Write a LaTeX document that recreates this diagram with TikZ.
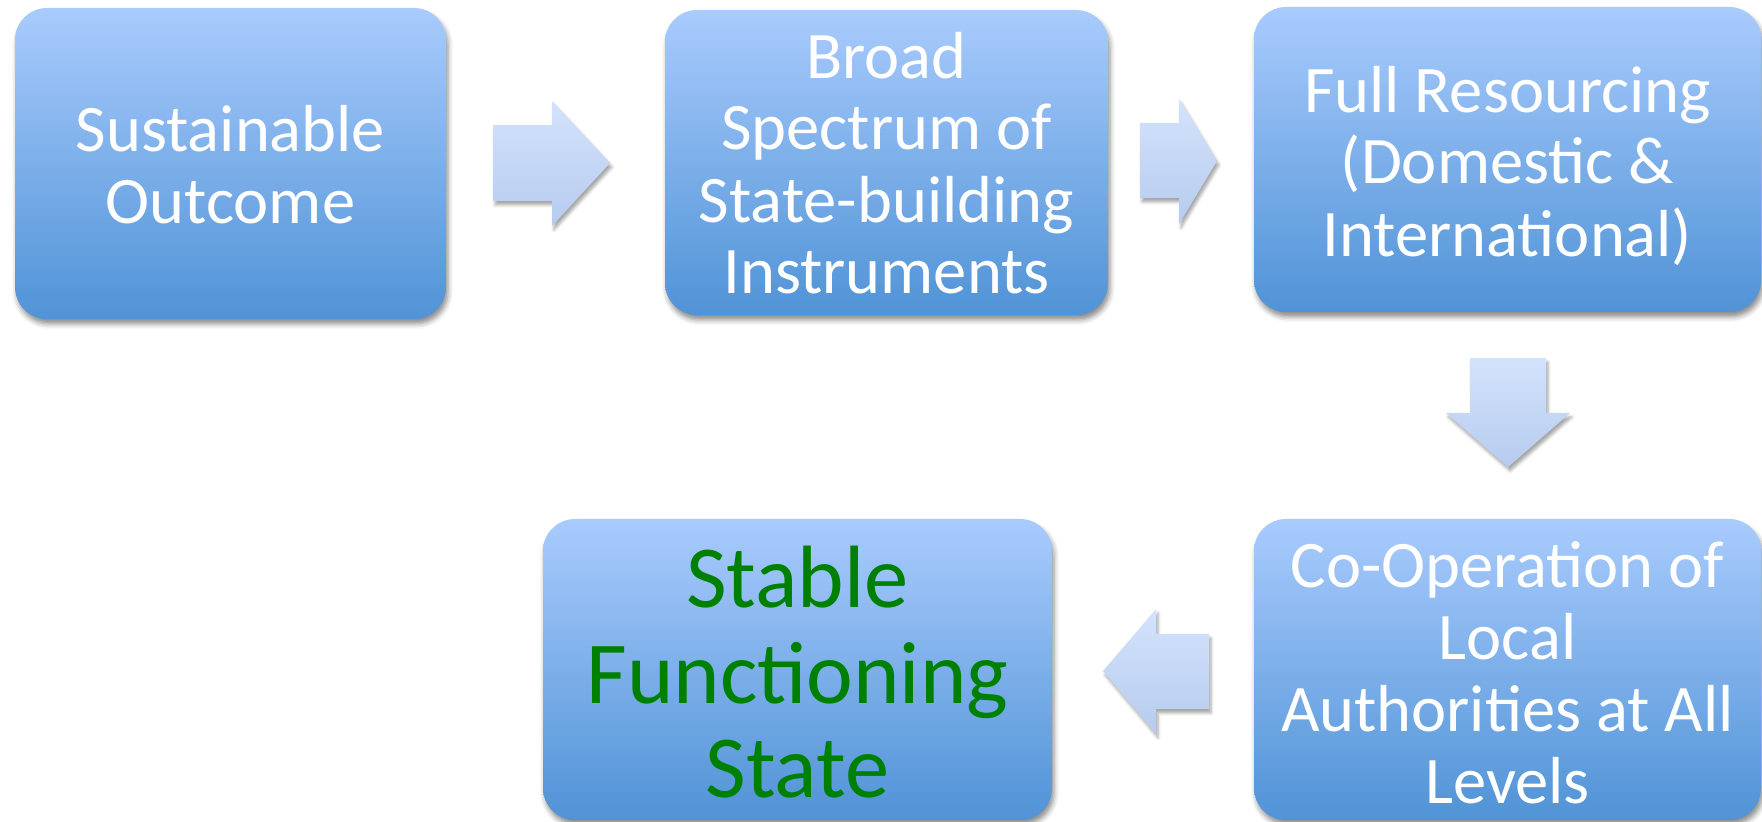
\documentclass[tikz,border=0pt]{standalone}
\usepackage{fontspec}
\setmainfont{Carlito}
\usetikzlibrary{shadows.blur}
\definecolor{boxtop}{HTML}{A9CBFD}
\definecolor{boxbot}{HTML}{5093D6}
\definecolor{arrtop}{HTML}{D3E3FC}
\definecolor{arrbot}{HTML}{B6CBEE}
\definecolor{stablegreen}{HTML}{008000}
\begin{document}
\begin{tikzpicture}[x=1pt,y=1pt,
  box/.style={rectangle, draw=none, rounded corners=32pt, top color=boxtop, bottom color=boxbot,
    inner sep=0pt, outer sep=0pt,
    blur shadow={shadow xshift=2pt, shadow yshift=-5pt, shadow blur radius=5pt, shadow opacity=45}},
  blockarrow/.style={draw=none, top color=arrtop, bottom color=arrbot,
    blur shadow={shadow xshift=2pt, shadow yshift=-4pt, shadow blur radius=3pt, shadow opacity=35}},
  wline/.style={text=white, font=\fontsize{66.5}{72}\selectfont, anchor=base, inner sep=0pt},
  gline/.style={text=stablegreen, font=\fontsize{88.5}{95}\selectfont, anchor=base, inner sep=0pt}]
\useasboundingbox (0,0) rectangle (1762,822);

% boxes
\node[box, minimum width=431, minimum height=311] (b1) at (230.5,658.5) {};
\node[box, minimum width=443, minimum height=305] (b2) at (886.5,659.5) {};
\node[box, minimum width=507, minimum height=305] (b3) at (1507.5,662.5) {};
\node[box, minimum width=507, minimum height=301] (b5) at (1507.5,152.5) {};
\node[box, minimum width=509, minimum height=301] (b4) at (797.5,152.5) {};

% block arrows
\path[blockarrow] (493,697) -- (552,697) -- (552,721) -- (610,659) -- (552,596) -- (552,621) -- (493,621) -- cycle;
\path[blockarrow] (1140,699) -- (1179,699) -- (1179,723) -- (1217,661) -- (1179,598) -- (1179,624) -- (1140,624) -- cycle;
\path[blockarrow] (1470,464) -- (1546,464) -- (1546,409) -- (1570,409) -- (1508,355) -- (1446,409) -- (1470,409) -- cycle;
\path[blockarrow] (1209,188) -- (1156,188) -- (1156,213) -- (1103,151) -- (1156,88) -- (1156,113) -- (1209,113) -- cycle;

% texts
\node[wline] (t1a) at (230.5,670) {Sustainable};
\node[wline] (t1b) at (230.5,598) {Outcome};

\node[wline] (t2a) at (886.5,743) {Broad};
\node[wline] (t2b) at (886.5,672) {Spectrum of};
\node[wline] (t2c) at (886.5,599) {State-building};
\node[wline] (t2d) at (886.5,528) {Instruments};

\node[wline] (t3a) at (1507.5,709) {Full Resourcing};
\node[wline] (t3b) at (1507.5,638) {(Domestic \&};
\node[wline] (t3c) at (1507.5,565) {International)};

\node[wline] (t5a) at (1507.5,234) {Co-Operation of};
\node[wline] (t5b) at (1507.5,162) {Local};
\node[wline] (t5c) at (1507.5,90) {Authorities at All};
\node[wline] (t5d) at (1507.5,18) {Levels};

\node[gline] (t4a) at (797.5,214) {Stable};
\node[gline] (t4b) at (797.5,118) {Functioning};
\node[gline] (t4c) at (797.5,24) {State};
\end{tikzpicture}
\end{document}
